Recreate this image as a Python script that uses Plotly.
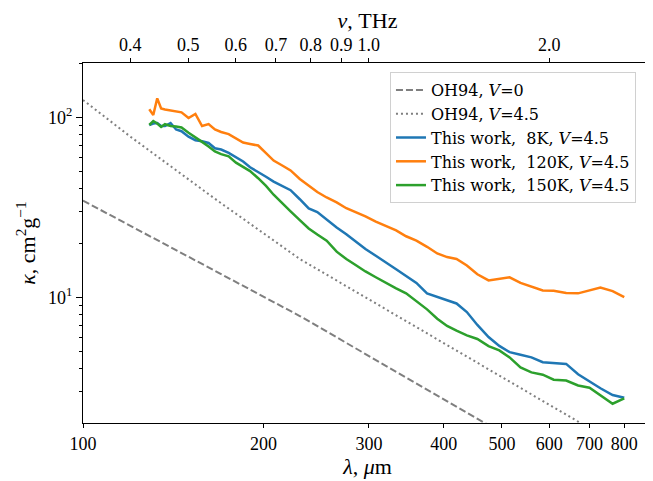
import math
import plotly.graph_objects as go

# Wavelength grid (micron) of the measured curves
wavelength = [129, 131, 133, 135, 137, 140, 143, 146, 150, 154, 158, 162, 166, 170, 175, 180, 185,
              190, 196, 202, 208, 215, 222, 230, 238, 246, 255, 265, 275, 285, 296, 308, 320, 333,
              346, 360, 375, 390, 405, 420, 437, 455, 475, 495, 515, 537, 560, 585, 610, 640, 670,
              700, 730, 765, 800]

kappa_8K = [90.5, 92.2, 92.8, 89.3, 89.3, 92.8, 85.4, 83.6, 77.9, 74.5, 73.5, 71.9, 67.2, 66.1,
            63.4, 59.7, 56.7, 52.7, 49.3, 46.7, 43.9, 41.5, 39.3, 35.0, 31.1, 29.7, 27.0, 24.4,
            22.4, 20.4, 18.5, 17.0, 15.7, 14.3, 13.1, 12.0, 10.5, 10.0, 9.61, 9.23, 8.27, 7.01,
            6.01, 5.36, 4.95, 4.79, 4.63, 4.35, 4.31, 4.26, 3.73, 3.39, 3.12, 2.86, 2.76]

kappa_120K = [110.6, 102.8, 127.3, 111.7, 110.3, 108.9, 107.8, 106.4, 98.9, 104.2, 89.3, 91.6,
              85.4, 82.7, 80.6, 76.1, 72.3, 71.0, 69.6, 63.2, 57.4, 53.9, 50.6, 45.4, 41.5, 38.4,
              35.8, 33.6, 31.2, 29.7, 28.1, 26.3, 25.0, 23.5, 21.8, 20.6, 19.05, 17.5, 16.7, 16.3,
              15.0, 13.4, 12.4, 12.6, 12.9, 12.0, 11.4, 10.9, 10.85, 10.55, 10.5, 10.9, 11.3,
              10.8, 10.0]

kappa_150K = [90.5, 95.2, 92.2, 88.2, 91.4, 89.3, 88.8, 87.6, 82.0, 76.8, 72.9, 68.7, 64.5, 62.3,
              60.6, 55.9, 53.2, 50.2, 45.8, 41.5, 37.1, 33.1, 30.0, 26.8, 24.1, 22.3, 20.6, 17.9,
              16.3, 15.1, 13.9, 12.9, 12.0, 11.2, 10.5, 9.53, 8.56, 7.59, 6.92, 6.51, 6.14, 5.86,
              5.35, 5.06, 4.63, 4.07, 3.82, 3.71, 3.48, 3.44, 3.23, 3.14, 2.86, 2.56, 2.74]

# Ossenkopf & Henning 1994 reference curves
oh94_v0_wl = [100, 230, 464.5, 700]
oh94_v0_kappa = [34.4, 7.86, 2.03, 0.93]
oh94_v45_wl = [100, 120, 167, 230, 671, 800]
oh94_v45_kappa = [124.6, 77.9, 34.7, 16.3, 2.03, 1.44]

# Axis ticks
x_ticks = [100, 200, 300, 400, 500, 600, 700, 800]
x_ticklabels = ["100", "200", "300", "400", "500", "600", "700", "800"]
nu_ticks = [0.4, 0.5, 0.6, 0.7, 0.8, 0.9, 1.0, 2.0]
nu_ticklabels = ["0.4", "0.5", "0.6", "0.7", "0.8", "0.9", "1.0", "2.0"]
y_major = [10, 100]
y_major_labels = ["10<sup>1</sup>", "10<sup>2</sup>"]
y_minor = [3, 4, 5, 6, 7, 8, 9, 20, 30, 40, 50, 60, 70, 80, 90, 200]

x_range = [100, 890]
y_range = [2, 200]

FONT = "Liberation Serif"
GRAY = "#7f7f7f"

fig = go.Figure()
fig.add_trace(go.Scatter(x=oh94_v0_wl, y=oh94_v0_kappa, mode="lines",
                         line=dict(color=GRAY, width=2, dash="7px,3px"),
                         name="OH94, <i>V</i>=0"))
fig.add_trace(go.Scatter(x=oh94_v45_wl, y=oh94_v45_kappa, mode="lines",
                         line=dict(color=GRAY, width=2, dash="2px,3px"),
                         name="OH94, <i>V</i>=4.5"))
fig.add_trace(go.Scatter(x=wavelength, y=kappa_8K, mode="lines",
                         line=dict(color="#1f77b4", width=2.5),
                         name="This work,  8K, <i>V</i>=4.5"))
fig.add_trace(go.Scatter(x=wavelength, y=kappa_120K, mode="lines",
                         line=dict(color="#ff7f0e", width=2.5),
                         name="This work,  120K, <i>V</i>=4.5"))
fig.add_trace(go.Scatter(x=wavelength, y=kappa_150K, mode="lines",
                         line=dict(color="#2ca02c", width=2.5),
                         name="This work,  150K, <i>V</i>=4.5"))
# invisible trace to attach the top frequency axis
fig.add_trace(go.Scatter(x=[x_range[0]], y=[y_range[0]], xaxis="x2", mode="markers",
                         marker=dict(opacity=0), showlegend=False, hoverinfo="skip"))

xr = [math.log10(x_range[0]), math.log10(x_range[1])]
yr = [math.log10(y_range[0]), math.log10(y_range[1])]

# the page body has an 8px margin, so the figure is 8px smaller than the window
fig.update_layout(
    width=645, height=473,
    margin=dict(l=75, r=1, t=55, b=58, autoexpand=False),
    paper_bgcolor="white", plot_bgcolor="white",
    font=dict(family=FONT, size=17, color="black"),
    xaxis=dict(type="log", range=xr, showgrid=False, zeroline=False, automargin=False,
               showline=True, linecolor="black", linewidth=1.2, mirror=True,
               ticks="outside", ticklen=4, tickcolor="black",
               tickvals=x_ticks, ticktext=x_ticklabels,
               tickfont=dict(size=18),
               title=dict(text="<i>λ</i>, <i>μ</i>m", font=dict(size=22), standoff=4)),
    xaxis2=dict(type="log", range=xr, overlaying="x", side="top", anchor="y", automargin=False,
                showgrid=False, zeroline=False, showline=True, linecolor="black",
                ticks="outside", ticklen=4, tickcolor="black",
                tickvals=[299.79 * n for n in nu_ticks], ticktext=nu_ticklabels,
                tickfont=dict(size=18),
                title=dict(text="<i>ν</i>, THz", font=dict(size=22), standoff=5)),
    yaxis=dict(type="log", range=yr, showgrid=False, zeroline=False, automargin=False,
               showline=True, linecolor="black", linewidth=1.2, mirror=True,
               ticks="outside", ticklen=6, tickcolor="black",
               tickvals=y_major, ticktext=y_major_labels,
               tickfont=dict(size=18),
               minor=dict(tickvals=y_minor, ticks="outside", ticklen=3, tickcolor="black"),
               title=dict(text="<i>κ</i>, cm<sup>2</sup>g<sup>−1</sup>", font=dict(size=22),
                          standoff=6)),
    legend=dict(x=0.5395, y=0.975, xanchor="left", yanchor="top",
                bgcolor="rgba(255,255,255,0.85)", bordercolor="#d0d0d0", borderwidth=1,
                font=dict(size=16, family="DejaVu Serif"), tracegroupgap=0),
    showlegend=True,
)

fig.write_html("out.html")
